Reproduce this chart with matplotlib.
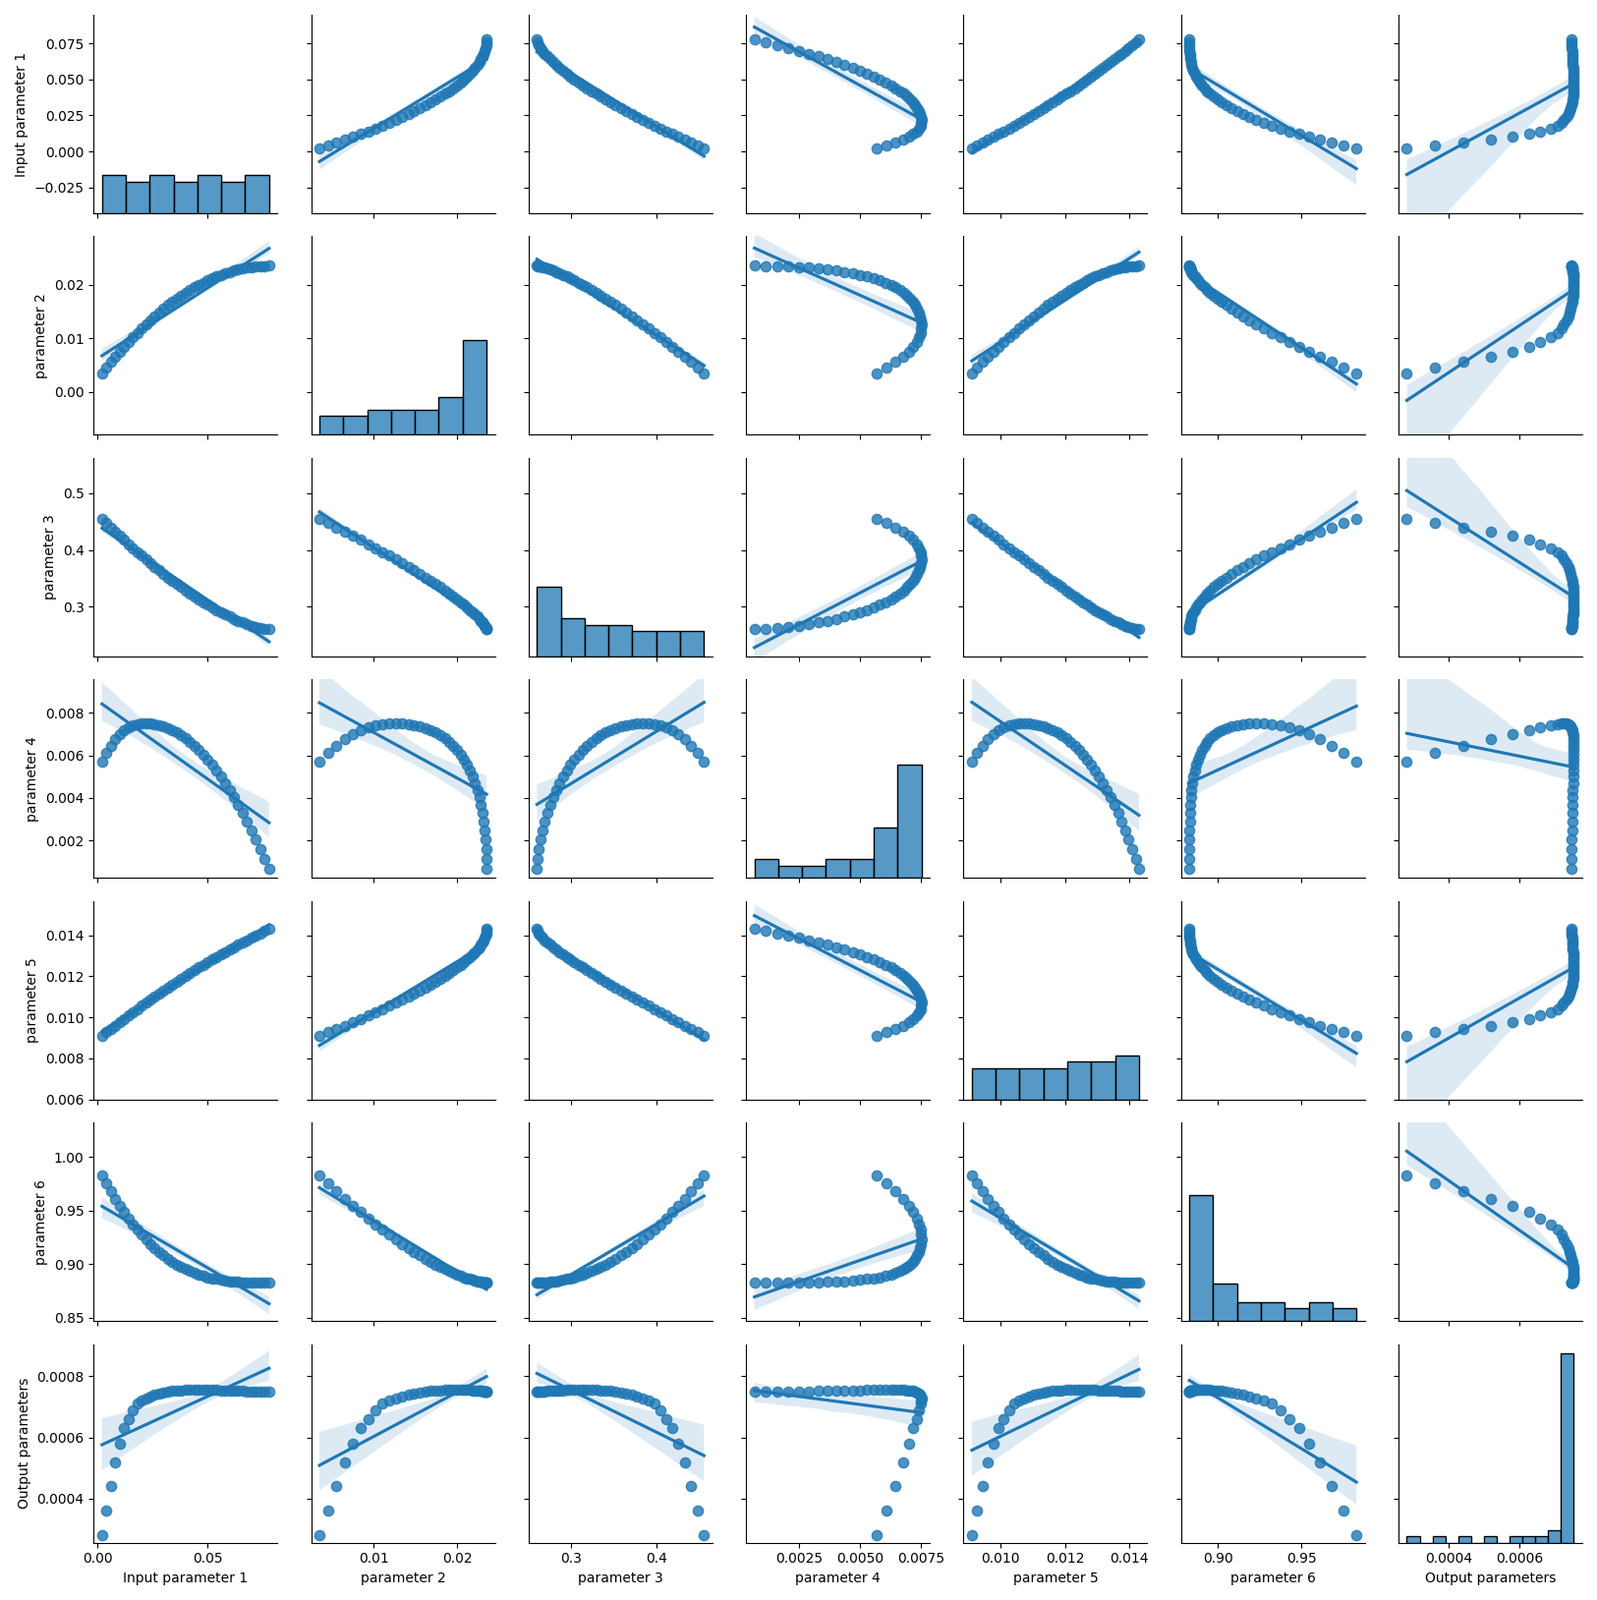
import numpy as np
import pandas as pd
import matplotlib
matplotlib.use("Agg")
import matplotlib.pyplot as plt
import seaborn as sns

# samples, ordered along input parameter 1
param1 = [0.002, 0.004, 0.006, 0.008, 0.010, 0.012, 0.014, 0.016, 0.018, 0.020,
          0.022, 0.024, 0.026, 0.028, 0.030, 0.032, 0.034, 0.036, 0.038, 0.040,
          0.042, 0.044, 0.046, 0.048, 0.050, 0.052, 0.054, 0.056, 0.058, 0.060,
          0.062, 0.064, 0.066, 0.068, 0.070, 0.072, 0.074, 0.076, 0.078]
param2 = [.00350, .00454, .00555, .00653, .00749, .00842, .00932, .01019, .01103, .01185,
          .01264, .01340, .01414, .01484, .01552, .01617, .01680, .01739, .01796, .01850,
          .01901, .01950, .01995, .02038, .02079, .02116, .02151, .02182, .02211, .02238,
          .02261, .02282, .02300, .02315, .02328, .02338, .02344, .02349, .02350]
param3 = [.4550, .4474, .4398, .4324, .4250, .4178, .4107, .4037, .3968, .3900,
          .3833, .3768, .3704, .3641, .3579, .3518, .3459, .3401, .3345, .3290,
          .3236, .3183, .3133, .3084, .3036, .2990, .2946, .2904, .2863, .2825,
          .2788, .2754, .2722, .2693, .2667, .2643, .2624, .2608, .2600]
param4 = [.00570, .00610, .00645, .00675, .00700, .00718, .00732, .00742, .00748, .00751,
          .00752, .00750, .00747, .00742, .00735, .00727, .00718, .00707, .00694, .00680,
          .00664, .00646, .00627, .00605, .00582, .00557, .00530, .00501, .00470, .00437,
          .00403, .00367, .00330, .00291, .00250, .00206, .00160, .00114, .00068]
param5 = [.00910, .00927, .00944, .00960, .00977, .00993, .01009, .01025, .01041, .01057,
          .01072, .01087, .01102, .01117, .01132, .01146, .01161, .01175, .01189, .01203,
          .01216, .01230, .01243, .01256, .01269, .01281, .01294, .01306, .01318, .01330,
          .01342, .01354, .01365, .01376, .01388, .01398, .01409, .01420, .01430]
param6 = [.9830, .9753, .9680, .9611, .9546, .9485, .9427, .9373, .9322, .9275,
          .9230, .9189, .9150, .9115, .9082, .9052, .9024, .8999, .8976, .8955,
          .8936, .8920, .8905, .8892, .8880, .8870, .8862, .8854, .8848, .8843,
          .8839, .8836, .8834, .8832, .8831, .8830, .8830, .8830, .8830]
output = [.00028, .00036, .00044, .00052, .00058, .00063, .00066, .00069, .00071, .00072,
          .000728, .000735, .00074, .000744, .000747, .00075, .000752, .000753, .000754, .000755,
          .000755, .000756, .000756, .000756, .000756, .000755, .000755, .000754, .000754, .000753,
          .000753, .000752, .000752, .000751, .000751, .00075, .00075, .000749, .000749]

labels = ["Input parameter 1", "parameter 2", "parameter 3", "parameter 4",
          "parameter 5", "parameter 6", "Output parameters"]

# y range and ticks of each row
row_ylims = [(-0.043, 0.095), (-0.008, 0.029), (0.2125, 0.5625), (0.00025, 0.00956),
             (0.006, 0.01566), (0.847, 1.032), (0.000256, 0.000905)]
row_yticks = [[-0.025, 0.0, 0.025, 0.05, 0.075], [0.0, 0.01, 0.02], [0.3, 0.4, 0.5],
              [0.002, 0.004, 0.006, 0.008], [0.006, 0.008, 0.010, 0.012, 0.014],
              [0.85, 0.90, 0.95, 1.00], [0.0004, 0.0006, 0.0008]]
row_ticklabels = [["−0.025", "0.000", "0.025", "0.050", "0.075"], ["0.00", "0.01", "0.02"],
                  ["0.3", "0.4", "0.5"], ["0.002", "0.004", "0.006", "0.008"],
                  ["0.006", "0.008", "0.010", "0.012", "0.014"],
                  ["0.85", "0.90", "0.95", "1.00"], ["0.0004", "0.0006", "0.0008"]]

df = pd.DataFrame(dict(zip(labels, [param1, param2, param3, param4, param5, param6, output])))

g = sns.pairplot(df, kind="reg", diag_kind="hist", height=2.3,
                 plot_kws={"seed": 0, "scatter_kws": {"s": 55}})
for i, lim in enumerate(row_ylims):
    j = 1 if i == 0 else 0
    ax = g.axes[i, j]
    ax.set_ylim(lim)
    ax.set_yticks(row_yticks[i])
    g.axes[i, 0].set_yticks(row_yticks[i])
    g.axes[i, 0].set_yticklabels(row_ticklabels[i])
    ax.set_ylim(lim)

g.axes[6, 0].set_xticks([0.00, 0.05])
g.axes[6, 3].set_xticks([0.0025, 0.0050, 0.0075])
g.axes[6, 4].set_xticks([0.010, 0.012, 0.014])
g.figure.set_size_inches(16.25, 16.28)
g.figure.tight_layout()
g.figure.savefig("out.png", dpi=100)
